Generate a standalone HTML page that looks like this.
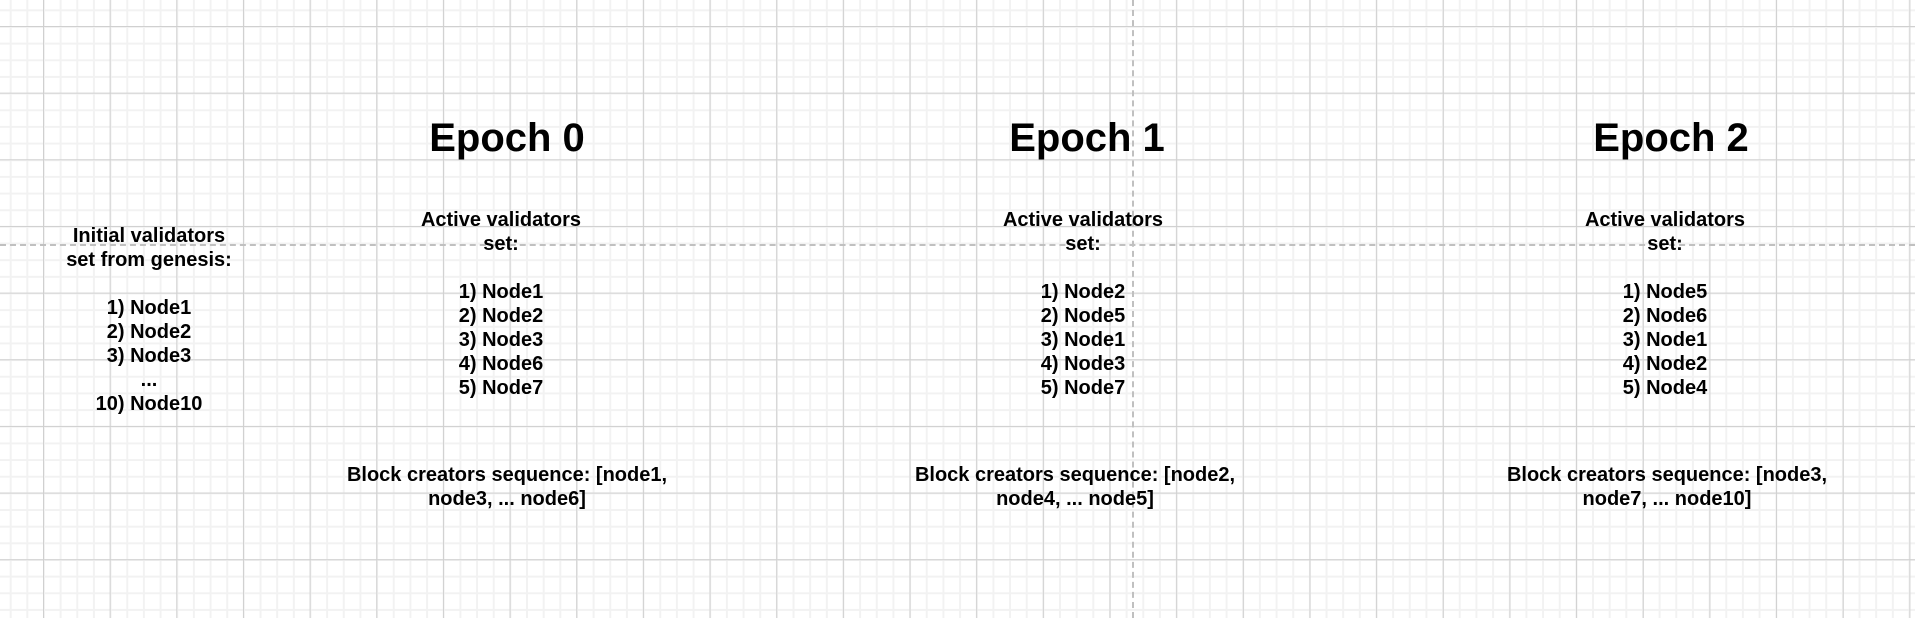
<!DOCTYPE html>
<html><head><style>
html,body{margin:0;padding:0}
body{width:1915px;height:618px;position:relative;overflow:hidden;background:#fff;
background-image:
linear-gradient(to right,#d0d0d0 1px,transparent 1px),
linear-gradient(to bottom,#d0d0d0 1px,transparent 1px),
linear-gradient(to right,#f2f2f2 2px,transparent 2px),
linear-gradient(to bottom,#f2f2f2 2px,transparent 2px);
background-size:66.67px 66.67px,66.67px 66.67px,16.67px 16.67px,16.67px 16.67px;
background-position:43px 26px,43px 26px,43px 26px,43px 26px;
font-family:"Liberation Sans",sans-serif;font-weight:bold;color:#000}
.t{position:absolute;width:440px;text-align:center;font-size:20px;line-height:24px}
.h{position:absolute;width:400px;text-align:center;font-size:40px;line-height:44px}
.dh{position:absolute;left:0;top:244px;width:1915px;border-top:2px dashed #c0c0c0}
.dv{position:absolute;left:1132px;top:0;height:618px;border-left:2px dashed #c0c0c0}
</style></head><body>
<div class="dh"></div><div class="dv"></div>
<div class="h" style="left:307px;top:116px">Epoch 0</div>
<div class="h" style="left:887px;top:116px">Epoch 1</div>
<div class="h" style="left:1471px;top:116px">Epoch 2</div>

<div class="t" style="left:-71px;top:224px">Initial validators<br>set from genesis:<br><br>1) Node1<br>2) Node2<br>3) Node3<br>...<br>10) Node10</div>

<div class="t" style="left:281px;top:208px">Active validators<br>set:<br><br>1) Node1<br>2) Node2<br>3) Node3<br>4) Node6<br>5) Node7</div>
<div class="t" style="left:863px;top:208px">Active validators<br>set:<br><br>1) Node2<br>2) Node5<br>3) Node1<br>4) Node3<br>5) Node7</div>
<div class="t" style="left:1445px;top:208px">Active validators<br>set:<br><br>1) Node5<br>2) Node6<br>3) Node1<br>4) Node2<br>5) Node4</div>

<div class="t" style="left:287px;top:463px">Block creators sequence: [node1,<br>node3, ... node6]</div>
<div class="t" style="left:855px;top:463px">Block creators sequence: [node2,<br>node4, ... node5]</div>
<div class="t" style="left:1447px;top:463px">Block creators sequence: [node3,<br>node7, ... node10]</div>
</body></html>
